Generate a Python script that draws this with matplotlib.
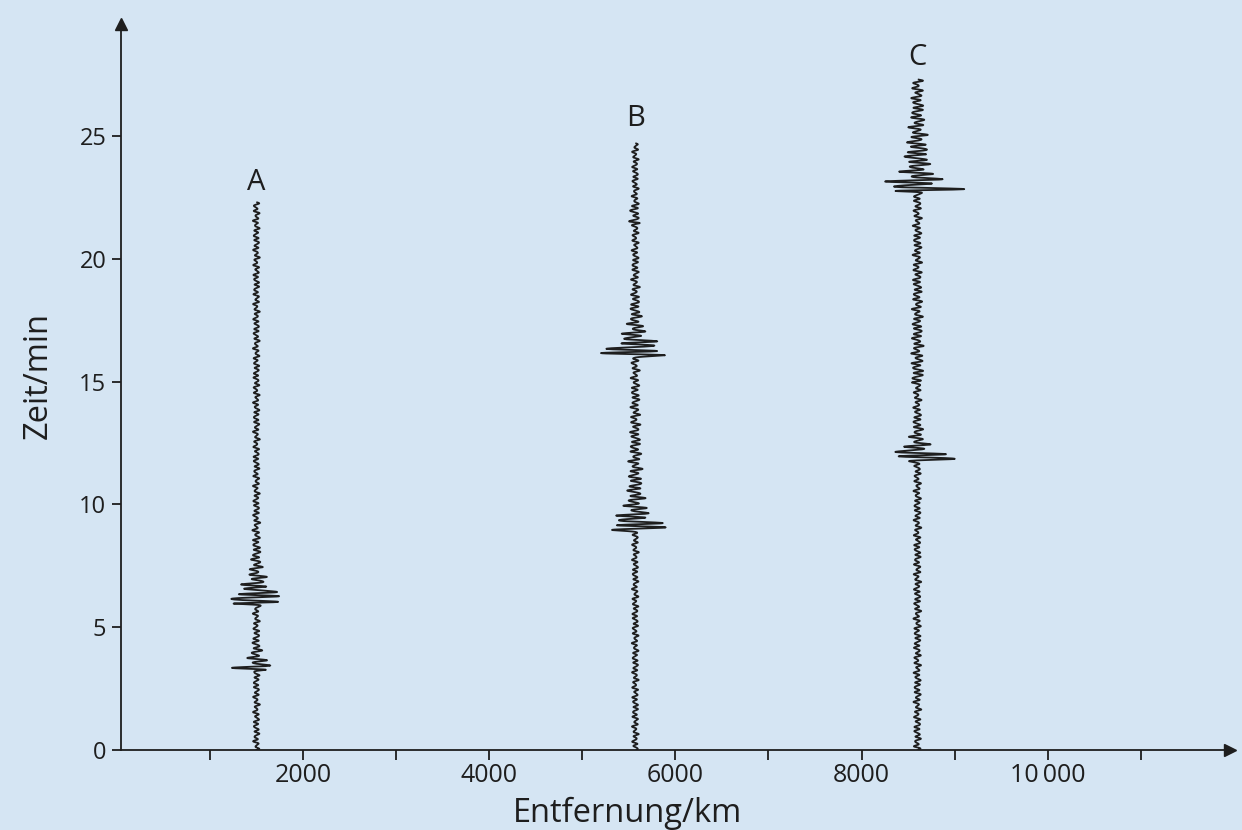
import numpy as np
import matplotlib.pyplot as plt

# Seismogramme an drei Stationen (Entfernung in km, Zeit in min)
stations = ['A', 'B', 'C']
station_km = [1500, 5570, 8600]
trace_end_min = [22.3, 24.7, 27.3]
label_min = [23.1, 25.7, 28.2]
noise_km = [30, 30, 34]

# Wellenpakete je Station: Einsatzzeit (min), Amplitude (km), Abklingzeit (min)
burst_t = [[3.3, 6.0, 6.3],
           [9.0, 9.3, 16.1, 16.4, 21.5, 22.0],
           [11.85, 12.1, 15.0, 22.8, 23.1, 24.0]]
burst_amp = [[220, 380, 60],
             [420, 70, 440, 70, 70, 50],
             [480, 80, 30, 480, 140, 50]]
burst_tau = [[0.35, 0.45, 1.0],
             [0.35, 3.0, 0.4, 1.0, 0.08, 0.08],
             [0.25, 0.6, 4.0, 0.3, 1.0, 2.5]]

xticks_major = [2000, 4000, 6000, 8000, 10000]
xtick_labels = ['2000', '4000', '6000', '8000', '10\u2009000']
xticks_minor = [1000, 3000, 5000, 7000, 9000, 11000]
yticks = [0, 5, 10, 15, 20, 25]

bg = '#d5e5f3'
ink = '#1e1e1e'
plt.rcParams['font.family'] = ['Open Sans', 'DejaVu Sans']

fig = plt.figure(figsize=(12.42, 8.30), dpi=100, facecolor=bg)
ax = fig.add_axes([121 / 1242, 80 / 830, 1109 / 1242, 726 / 830])
ax.set_facecolor(bg)


def envelope(t, t0s, amps, taus, base):
    env = np.full_like(t, base, dtype=float)
    for t0, a, tau in zip(t0s, amps, taus):
        after = np.exp(-np.clip(t - t0, 0, None) / tau)
        before = np.exp(-(np.clip(t0 - t, 0, None) / 0.07) ** 2)
        env += a * np.where(t >= t0, after, before)
    return env


for i, name in enumerate(stations):
    t = np.arange(0, trace_end_min[i], 0.008)
    env = envelope(t, burst_t[i], burst_amp[i], burst_tau[i], noise_km[i])
    # Traegerschwingung mit leichter Unregelmaessigkeit
    wig = (np.sin(2 * np.pi * t / 0.2) + 0.4 * np.sin(2 * np.pi * t / 0.57 + i)
           + 0.25 * np.sin(2 * np.pi * t / 0.13 + 2 * i))
    x = station_km[i] + env * wig / 1.3
    ax.plot(x, t, color=ink, lw=1.3)
    ax.text(station_km[i], label_min[i], name, ha='center', va='center',
            fontsize=21, color=ink)

ax.set_xlim(46, 11958)
ax.set_ylim(0, 29.56)

for side in ['top', 'right']:
    ax.spines[side].set_visible(False)
for side in ['left', 'bottom']:
    ax.spines[side].set_linewidth(1.3)
    ax.spines[side].set_color(ink)

ax.plot(1, 0, '>', color=ink, ms=9, transform=ax.transAxes, clip_on=False)
ax.plot(0, 1, '^', color=ink, ms=9, transform=ax.transAxes, clip_on=False)

ax.set_xticks(xticks_major)
ax.set_xticklabels(xtick_labels)
ax.set_xticks(xticks_minor, minor=True)
ax.set_yticks(yticks)
ax.tick_params(axis='x', which='both', direction='out', length=7, width=1.3,
               color=ink, labelsize=18, pad=2, labelcolor=ink)
ax.tick_params(axis='y', direction='out', length=6.5, width=1.3,
               color=ink, labelsize=17, pad=4, labelcolor=ink)

fig.text(627 / 1242, 1 - 813 / 830, 'Entfernung/km', ha='center', va='center',
         fontsize=23.5, color=ink)
fig.text(38 / 1242, 1 - 375 / 830, 'Zeit/min', ha='center', va='center',
         rotation=90, fontsize=23.5, color=ink)

fig.savefig('out.png', dpi=100, facecolor=bg)
